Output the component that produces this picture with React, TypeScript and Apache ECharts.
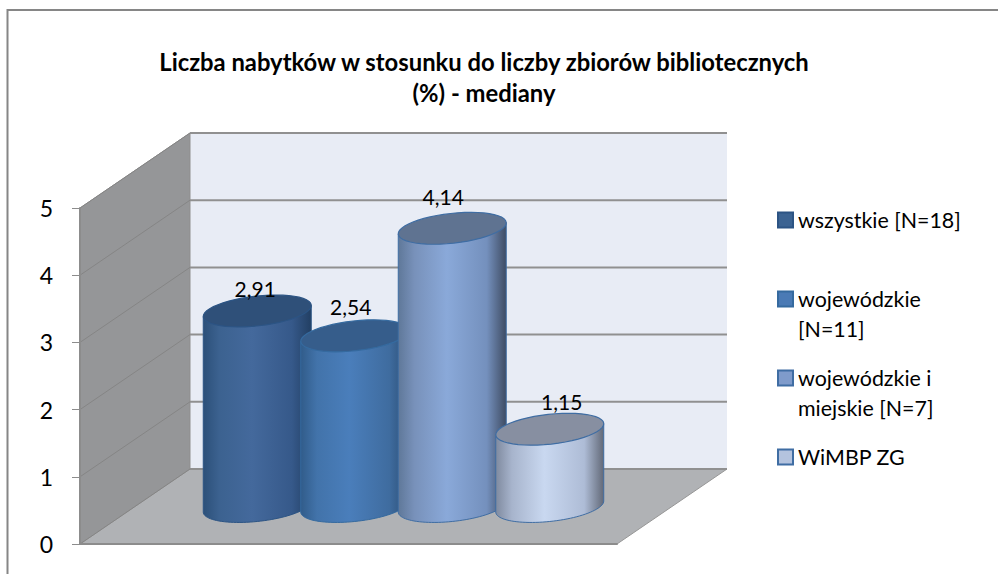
import React, { useEffect, useRef } from "react";
import * as echarts from "echarts";

const titleText = "Liczba nabytków w stosunku do liczby zbiorów bibliotecznych\n(%) - mediany";
const categories = ["mediana"];
const seriesNames = ["wszystkie [N=18]", "wojewódzkie\n[N=11]", "wojewódzkie i\nmiejskie [N=7]", "WiMBP ZG"];
const seriesValues = [2.91, 2.54, 4.14, 1.15];
const yTicks = [0, 1, 2, 3, 4, 5];

const bodyStops = [
  ["#2c5079", "#3c6290", "#44699c", "#36598a", "#223f63"],
  ["#315c8a", "#4273aa", "#4a7ebb", "#3f6c9f", "#2a4c73"],
  ["#5f7899", "#7891ba", "#8aa9d9", "#7490bd", "#3f4c63"],
  ["#7f8a9f", "#a7b4cc", "#c9d8f0", "#aebcd6", "#626978"],
];
const topColors = ["#2f5079", "#365d8b", "#5f7391", "#878fa1"];
const legendColors = ["#3b6392", "#4a7ab5", "#7f9bcb", "#b4c3de"];
const edgeColors = ["#2c5484", "#356a9f", "#3f6da3", "#3f6da3"];
const labelOffsets = [[-2, -22], [-4, -29], [-9, -32], [12, -28]];
const legendTops = [205, 254, 333, 442];
const legendLead = ["", "\n", "\n", ""];

const FONT = "Lato";
const DEPTH_X = 110;
const DEPTH_Y = 75;
const SPACING = 97.5;
const A = 54.3;
const B = 14.9;
const TILT = (6.3 * Math.PI) / 180;
const SLIDE = 37.5;

function ellipsePoint(cx: number, cy: number, t: number) {
  return [
    cx + A * Math.cos(t) * Math.cos(TILT) - B * Math.sin(t) * Math.sin(TILT),
    cy - (A * Math.cos(t) * Math.sin(TILT) + B * Math.sin(t) * Math.cos(TILT)),
  ];
}

function arc(cx: number, cy: number, t0: number, t1: number) {
  const pts: number[][] = [];
  const n = 48;
  for (let i = 0; i <= n; i++) pts.push(ellipsePoint(cx, cy, t0 + ((t1 - t0) * i) / n));
  return pts;
}

function renderFrame(_p: any, api: any) {
  const origin = api.coord([0, 0]);
  const halfBand = api.size([1, 0])[0] / 2;
  const x0 = origin[0] - halfBand;
  const x1 = origin[0] + halfBand;
  const y0 = origin[1];
  const yTop = api.coord([0, yTicks[yTicks.length - 1]])[1];
  const children: any[] = [
    {
      type: "polygon",
      shape: { points: [[x0 + DEPTH_X, yTop - DEPTH_Y], [x1 + DEPTH_X, yTop - DEPTH_Y], [x1 + DEPTH_X, y0 - DEPTH_Y], [x0 + DEPTH_X, y0 - DEPTH_Y]] },
      style: { fill: "#e8ecf5" },
    },
    {
      type: "polygon",
      shape: { points: [[x0, yTop], [x0 + DEPTH_X, yTop - DEPTH_Y], [x0 + DEPTH_X, y0 - DEPTH_Y], [x0, y0]] },
      style: { fill: "#959698", stroke: "#8f8f8f", lineWidth: 1 },
    },
    {
      type: "polygon",
      shape: { points: [[x0, y0], [x0 + DEPTH_X, y0 - DEPTH_Y], [x1 + DEPTH_X, y0 - DEPTH_Y], [x1, y0]] },
      style: { fill: "#b0b2b5", stroke: "#969696", lineWidth: 1 },
    },
  ];
  yTicks.forEach((t) => {
    const y = api.coord([0, t])[1];
    children.push({
      type: "line",
      shape: { x1: x0, y1: y, x2: x0 + DEPTH_X, y2: y - DEPTH_Y },
      style: { stroke: "#858585", lineWidth: 1 },
    });
    children.push({
      type: "line",
      shape: { x1: x0 + DEPTH_X, y1: y - DEPTH_Y, x2: x1 + DEPTH_X, y2: y - DEPTH_Y },
      style: { stroke: "#909090", lineWidth: 2 },
    });
  });
  return { type: "group", children };
}

function makeCylinder(idx: number) {
  return (_p: any, api: any) => {
    const value = api.value(1);
    const c = api.coord([0, value]);
    const base = api.coord([0, 0]);
    const cx = c[0] + DEPTH_X / 2 + (idx - 1.5) * SPACING;
    const topY = c[1] - SLIDE;
    const baseY = base[1] - SLIDE;
    const t0 = Math.atan((-B / A) * Math.tan(TILT));
    const lower = arc(cx, baseY, t0, t0 - Math.PI);
    const topBack = [ellipsePoint(cx, topY, t0 - Math.PI), ellipsePoint(cx, topY, t0)];
    const stops = bodyStops[idx];
    const offset = labelOffsets[idx];
    return {
      type: "group",
      children: [
        {
          type: "polygon",
          shape: { points: [...lower, ...topBack] },
          style: {
            fill: new echarts.graphic.LinearGradient(0, 0, 1, 0, [
              { offset: 0, color: stops[0] },
              { offset: 0.15, color: stops[1] },
              { offset: 0.45, color: stops[2] },
              { offset: 0.82, color: stops[3] },
              { offset: 1, color: stops[4] },
            ]),
            stroke: edgeColors[idx],
            lineWidth: 1,
          },
        },
        {
          type: "polygon",
          shape: { points: arc(cx, topY, 0, Math.PI * 2) },
          style: { fill: topColors[idx], stroke: edgeColors[idx], lineWidth: 1.2 },
        },
        {
          type: "text",
          x: cx + offset[0],
          y: topY + offset[1],
          style: {
            text: value.toFixed(2).replace(".", ","),
            fill: "#000000",
            font: `21px ${FONT}`,
            align: "center",
            verticalAlign: "middle",
          },
        },
      ],
    };
  };
}

export default function App() {
  const ref = useRef<HTMLDivElement>(null);
  useEffect(() => {
    if (!ref.current) return;
    const chart = echarts.init(ref.current, undefined, { renderer: "svg" });
    const option: any = {
      animation: false,
      backgroundColor: "#ffffff",
      title: {
        text: titleText,
        left: 479,
        top: 41,
        textAlign: "center",
        textStyle: { fontFamily: FONT, fontWeight: "bold", fontSize: 23.8, lineHeight: 31, color: "#000000" },
      },
      legend: seriesNames.map((name, i) => ({
        data: [name],
        orient: "vertical",
        left: 777,
        top: legendTops[i],
        padding: 0,
        icon: "rect",
        itemWidth: 15,
        itemHeight: 15,
        selectedMode: false,
        formatter: (n: string) => legendLead[i] + n,
        textStyle: { fontFamily: FONT, fontSize: 21.4, lineHeight: 30, color: "#000000" },
      })),
      grid: { left: 80, top: 208, width: 537, height: 336, containLabel: false },
      xAxis: {
        type: "category",
        data: categories,
        axisLabel: { show: false },
        axisTick: { show: false },
        axisLine: { lineStyle: { color: "#8c8c8c", width: 2 } },
      },
      yAxis: {
        type: "value",
        min: 0,
        max: 5,
        interval: 1,
        splitLine: { show: false },
        axisLine: { show: true, lineStyle: { color: "#8c8c8c", width: 2 } },
        axisTick: { show: true, length: 8, lineStyle: { color: "#8c8c8c", width: 1 } },
        axisLabel: { fontFamily: FONT, fontSize: 23, color: "#000000", margin: 27 },
      },
      graphic: [
        {
          type: "polyline",
          shape: { points: [[7.5, 574], [7.5, 10], [998, 10]] },
          style: { fill: "none", stroke: "#868686", lineWidth: 2 },
          silent: true,
        },
      ],
      series: [
        {
          type: "custom",
          name: "frame",
          coordinateSystem: "cartesian2d",
          clip: false,
          silent: true,
          z: 0,
          data: [[0, 0]],
          renderItem: renderFrame,
        },
        ...seriesNames.map((name, i) => ({
          type: "custom",
          name,
          coordinateSystem: "cartesian2d",
          clip: false,
          z: 3 + i,
          itemStyle: { color: legendColors[i], borderColor: edgeColors[i], borderWidth: 1.5 },
          encode: { x: 0, y: 1 },
          data: [[0, seriesValues[i]]],
          renderItem: makeCylinder(i),
        })),
      ],
    };
    chart.setOption(option);
    return () => chart.dispose();
  }, []);
  return <div ref={ref} style={{ position: "absolute", left: 0, top: 0, width: 998, height: 574 }} />;
}
